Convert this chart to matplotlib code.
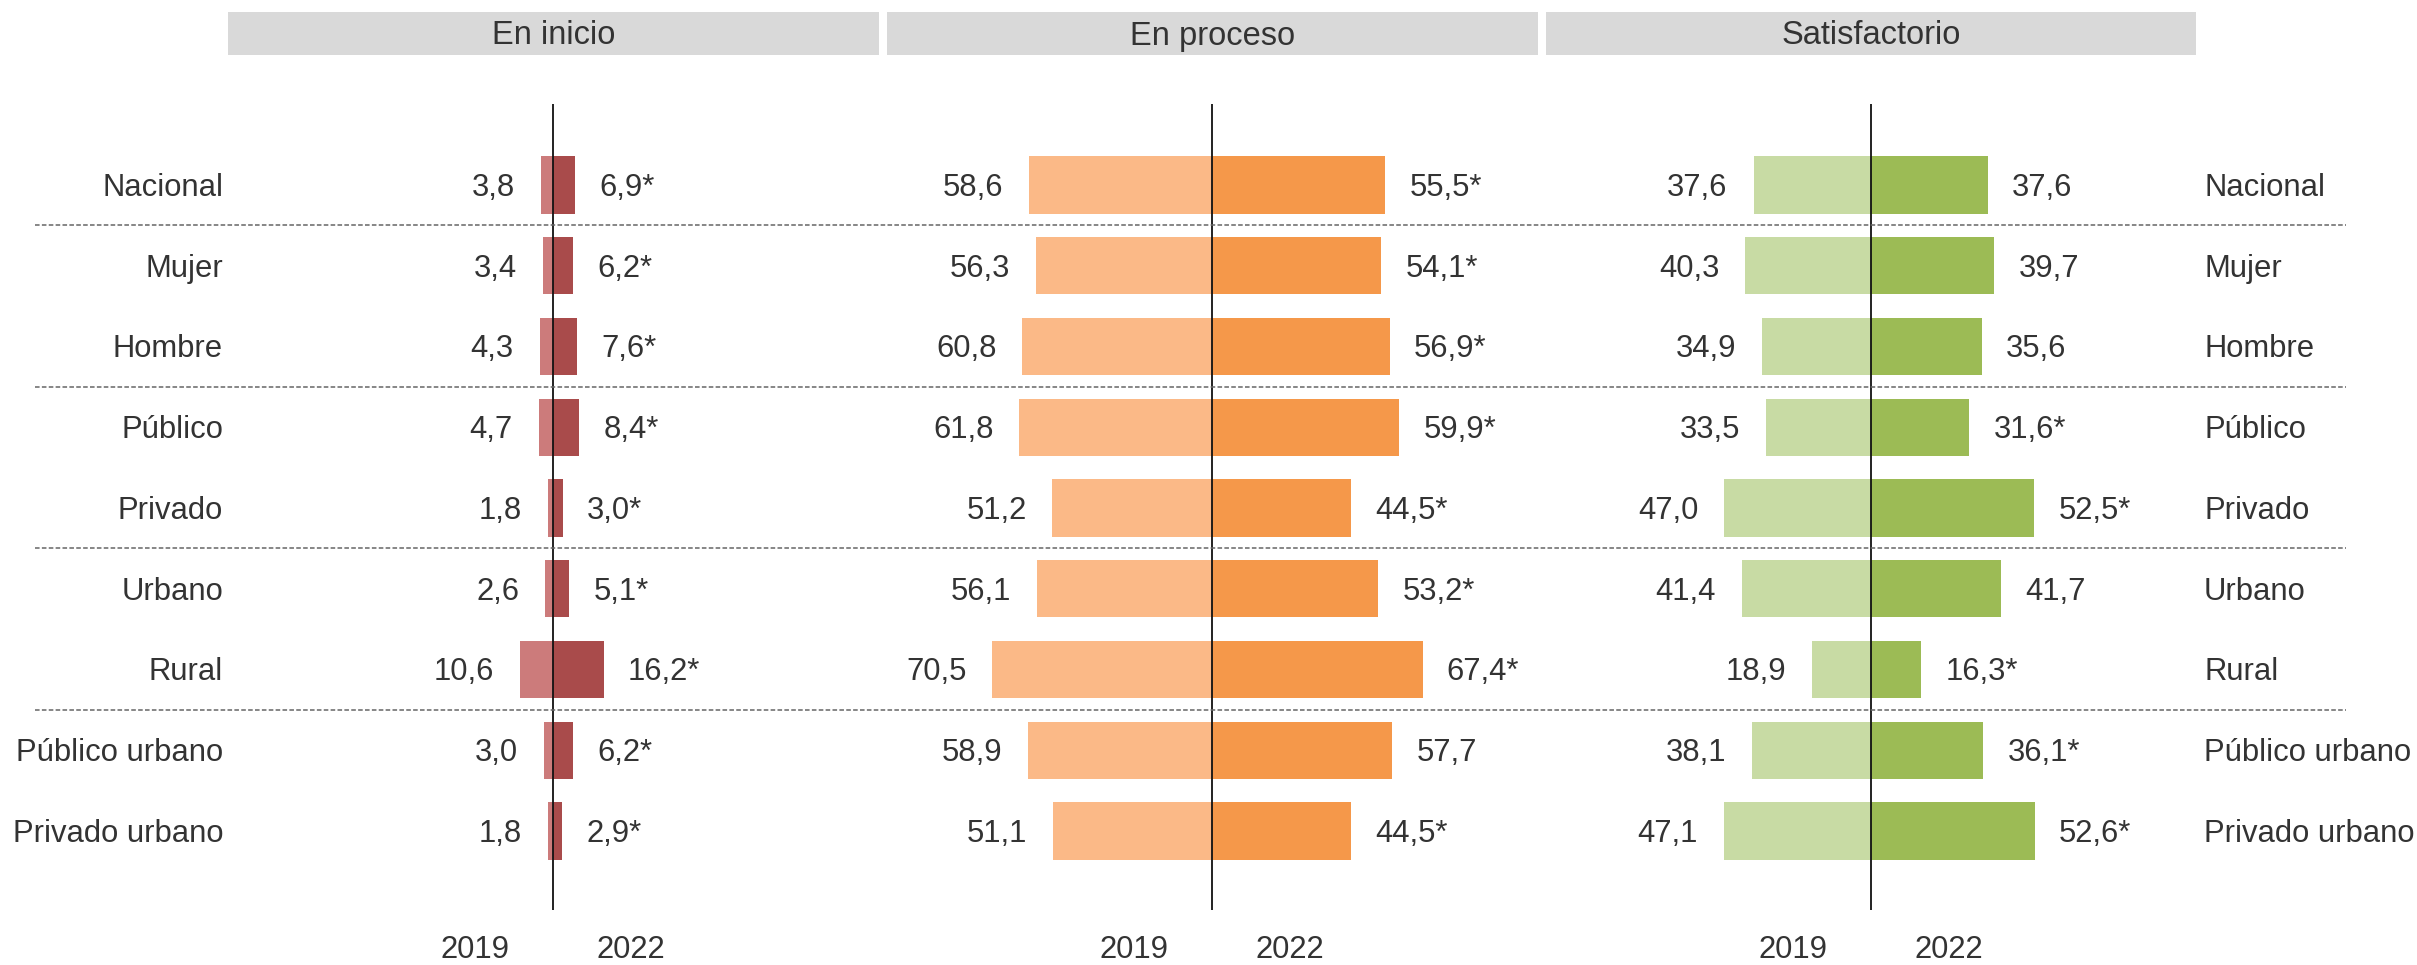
import matplotlib
matplotlib.use("Agg")
import matplotlib.pyplot as plt
from matplotlib.patches import Rectangle
from matplotlib.lines import Line2D
import matplotlib.transforms as mtransforms

plt.rcParams['font.family'] = ['Liberation Sans', 'DejaVu Sans']

categories = ["Nacional", "Mujer", "Hombre", "Público", "Privado", "Urbano",
              "Rural", "Público urbano", "Privado urbano"]
panels = ["En inicio", "En proceso", "Satisfactorio"]
years = ["2019", "2022"]

inicio_2019 = [3.8, 3.4, 4.3, 4.7, 1.8, 2.6, 10.6, 3.0, 1.8]
inicio_2022 = [6.9, 6.2, 7.6, 8.4, 3.0, 5.1, 16.2, 6.2, 2.9]
inicio_sig = [True, True, True, True, True, True, True, True, True]

proceso_2019 = [58.6, 56.3, 60.8, 61.8, 51.2, 56.1, 70.5, 58.9, 51.1]
proceso_2022 = [55.5, 54.1, 56.9, 59.9, 44.5, 53.2, 67.4, 57.7, 44.5]
proceso_sig = [True, True, True, True, True, True, True, False, True]

satisf_2019 = [37.6, 40.3, 34.9, 33.5, 47.0, 41.4, 18.9, 38.1, 47.1]
satisf_2022 = [37.6, 39.7, 35.6, 31.6, 52.5, 41.7, 16.3, 36.1, 52.6]
satisf_sig = [False, False, False, True, True, False, True, True, True]

separators_after = [0, 2, 4, 6]

colors = [("#cc7b7b", "#a94b4b"), ("#fbb987", "#f5984a"), ("#c8dba4", "#9cbb55")]
data = [(inicio_2019, inicio_2022, inicio_sig),
        (proceso_2019, proceso_2022, proceso_sig),
        (satisf_2019, satisf_2022, satisf_sig)]

W, H = 2417, 965
fig = plt.figure(figsize=(W / 100, H / 100), dpi=100)

panel_x = [(228, 879), (887, 1538), (1546, 2196)]
ax_top, ax_bot = 104, 910
XL, XR = -104.2, 104.4
YT, YB = -1.003, 8.978
TXT = "#333333"
FS = 22.3
FSH = 23.5
DY = 0.035

def fmt(v):
    return f"{v:.1f}".replace(".", ",")

axes = []
for p, (x0, x1) in enumerate(panel_x):
    ax = fig.add_axes([x0 / W, 1 - ax_bot / H, (x1 - x0) / W, (ax_bot - ax_top) / H])
    ax.set_xlim(XL, XR)
    ax.set_ylim(YB, YT)
    ax.axis("off")
    v19, v22, sig = data[p]
    c19, c22 = colors[p]
    ypos = list(range(len(categories)))
    ax.barh(ypos, [-v for v in v19], height=0.71, color=c19, zorder=2)
    ax.barh(ypos, v22, height=0.71, color=c22, zorder=2)
    ax.axvline(0, color="#111111", lw=1.3, zorder=3)
    for i in ypos:
        ax.text(-v19[i] - 8.3, i + DY, fmt(v19[i]), ha="right", va="center",
                fontsize=FS, color=TXT)
        ax.text(v22[i] + 7.8, i + DY, fmt(v22[i]) + ("*" if sig[i] else ""),
                ha="left", va="center", fontsize=FS, color=TXT)
    ax.text(-25, 9.47, years[0], ha="center", va="center", fontsize=FS,
            color=TXT, clip_on=False)
    ax.text(25, 9.47, years[1], ha="center", va="center", fontsize=FS,
            color=TXT, clip_on=False)
    # header
    fig.add_artist(Rectangle((x0 / W, 1 - 55 / H), (x1 - x0) / W, 43 / H,
                             transform=fig.transFigure, facecolor="#d9d9d9",
                             edgecolor="none", zorder=0))
    fig.text((x0 + x1) / 2 / W, 1 - 36 / H, panels[p], ha="center", va="center",
             fontsize=FSH, color=TXT)
    axes.append(ax)

# category labels
for i, c in enumerate(categories):
    axes[0].text(-105.8, i + DY, c, ha="right", va="center", fontsize=FS,
                 color=TXT, clip_on=False)
    axes[2].text(107.0, i + DY, c, ha="left", va="center", fontsize=FS,
                 color=TXT, clip_on=False)

# dashed separators
trans = mtransforms.blended_transform_factory(fig.transFigure, axes[0].transData)
for s in separators_after:
    fig.add_artist(Line2D([35 / W, 2346 / W], [s + 0.5, s + 0.5], transform=trans,
                          color="#666666", lw=1.1, linestyle=(0, (3, 1.5)), zorder=1))

fig.savefig("out.png", dpi=100, facecolor="white")
